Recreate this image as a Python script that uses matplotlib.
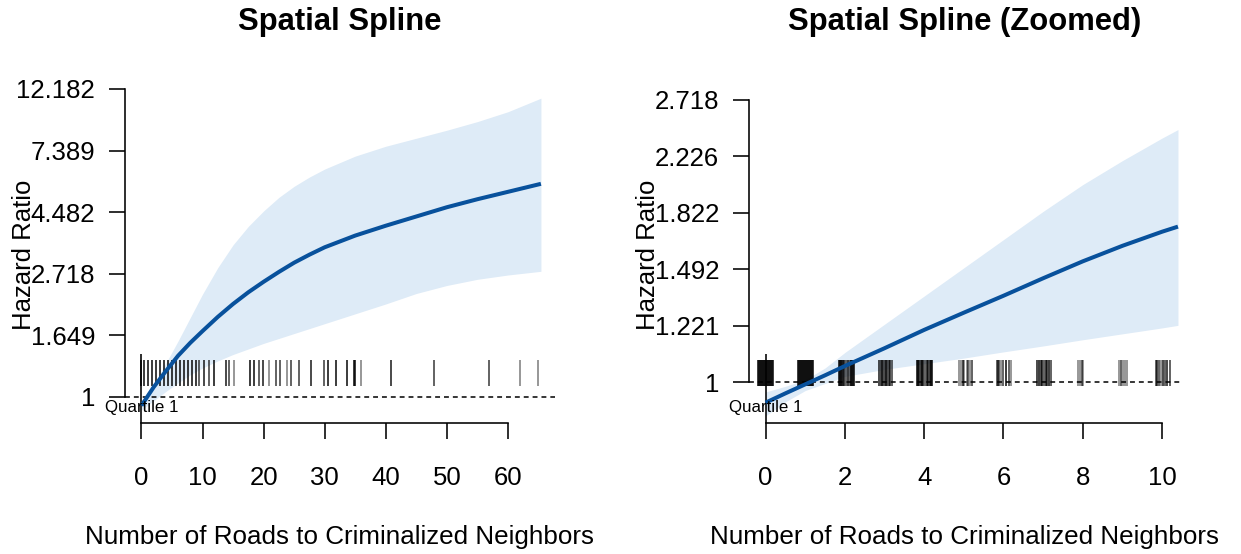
import numpy as np
import matplotlib
matplotlib.use('Agg')
import matplotlib.pyplot as plt
from matplotlib.ticker import NullLocator

# ---- data (log hazard ratio) ----
full_x = [0, 2, 4, 6, 8, 10, 12.5, 15, 17.5, 20, 22.5, 25, 27.5, 30, 35, 40,
          45, 50, 55, 60, 65.4]
full_fit = [-0.07, 0.08, 0.21, 0.335, 0.44, 0.535, 0.65, 0.755, 0.85, 0.935,
            1.015, 1.09, 1.155, 1.215, 1.31, 1.39, 1.465, 1.54, 1.605, 1.665,
            1.73]
full_upper = [-0.035, 0.105, 0.275, 0.455, 0.645, 0.835, 1.05, 1.235, 1.385,
              1.51, 1.62, 1.71, 1.785, 1.85, 1.955, 2.035, 2.10, 2.165, 2.235,
              2.315, 2.425]
full_lower = [-0.105, -0.03, 0.045, 0.115, 0.18, 0.235, 0.293, 0.345, 0.39,
              0.435, 0.475, 0.515, 0.555, 0.595, 0.675, 0.755, 0.84, 0.905,
              0.955, 0.99, 1.02]

zoom_x = [0, 0.5, 1, 1.5, 2, 3, 4, 5, 6, 7, 8, 9, 10, 10.4]
zoom_fit = [-0.073, -0.04, -0.008, 0.024, 0.057, 0.12, 0.185, 0.246, 0.306,
            0.368, 0.428, 0.483, 0.533, 0.551]
zoom_upper = [-0.035, -0.015, 0.008, 0.05, 0.105, 0.205, 0.305, 0.405,
              0.505, 0.605, 0.70, 0.785, 0.865, 0.895]
zoom_lower = [-0.12, -0.07, -0.03, -0.005, 0.02, 0.045, 0.065, 0.085, 0.107,
              0.128, 0.15, 0.171, 0.192, 0.201]

# rug: observed (jittered) values and how many observations overlap there
full_rug = [0.0, 0.49, 1.14, 1.8, 2.45, 3.1, 3.76, 4.4, 5.07, 5.7, 6.37, 7.0,
            7.7, 8.3, 9.0, 9.5, 10.3, 11.0, 11.8, 13.8, 14.4, 15.2, 17.76,
            18.46, 19.23, 19.93, 20.86, 21.95, 22.66, 23.86, 24.56, 25.82,
            27.7, 29.9, 30.6, 31.8, 33.7, 34.8, 35.0, 35.9, 40.9, 47.9, 56.9,
            61.9, 64.9]
full_rug_n = [4, 4, 4, 4, 4, 4, 4, 4, 4, 4, 4, 4,
              4, 4, 4, 2, 3, 2, 4, 3, 2, 1, 4,
              4, 2, 3, 1, 2, 2, 1, 2, 2,
              3, 2, 4, 4, 4, 4, 4, 1, 3, 2, 2,
              1, 1]

zoom_rug = [-0.18, -0.155, -0.13, -0.105, -0.08, -0.055, -0.03, -0.005,
            0.02, 0.045, 0.07, 0.095, 0.12, 0.145, 0.17, 0.195,
            0.82, 0.845, 0.87, 0.895, 0.92, 0.945, 0.97, 0.995,
            1.02, 1.045, 1.07, 1.095, 1.12, 1.145, 1.17, 1.195,
            1.842, 1.868, 1.893, 1.918, 1.952, 1.985, 2.035, 2.069, 2.119,
            2.152, 2.178, 2.203, 2.228,
            2.864, 2.906, 2.940, 2.973, 3.007, 3.040, 3.074, 3.107, 3.141,
            3.183,
            3.827, 3.853, 3.878, 3.920, 3.953, 3.978, 4.028, 4.070, 4.104,
            4.137, 4.171, 4.204,
            4.883, 4.925, 4.967, 5.008, 5.067, 5.109, 5.151, 5.201,
            5.838, 5.863, 5.888, 5.947, 5.988, 6.072, 6.139, 6.198,
            6.851, 6.893, 6.935, 6.977, 7.018, 7.060, 7.102, 7.144, 7.186,
            7.889, 7.931, 7.973, 8.015,
            8.903, 8.961, 9.003, 9.062, 9.104,
            9.841, 9.883, 9.925, 9.967, 10.025, 10.076, 10.134, 10.193]
zoom_rug_n = [4] * 32 + \
    [4, 4, 4, 3, 2, 4, 2, 4, 2, 4, 4, 3, 4] + \
    [3, 3, 2, 3, 3, 2, 3, 3, 3, 2] + \
    [4, 4, 4, 4, 4, 4, 2, 4, 4, 4, 4, 4] + \
    [1, 1, 3, 1, 1, 2, 1, 2] + \
    [2, 2, 2, 1, 2, 4, 2, 1] + \
    [3, 4, 3, 4, 2, 4, 3, 4, 2] + \
    [1, 1, 2, 1] + \
    [1, 2, 1, 1, 1] + \
    [2, 3, 2, 1, 3, 2, 3, 2]

full_ticks_x = [0, 10, 20, 30, 40, 50, 60]
full_ticks_y = [0, 0.5, 1.0, 1.5, 2.0, 2.5]
zoom_ticks_x = [0, 2, 4, 6, 8, 10]
zoom_ticks_y = [0, 0.2, 0.4, 0.6, 0.8, 1.0]

LINE = '#08519c'
BAND = '#deebf7'
FS = 18.5


def draw_panel(ax, x, fit, lo, hi, rug, rug_n, xticks, yticks, xlim, ylim,
               title):
    x = np.asarray(x)
    ax.fill_between(x, np.exp(lo), np.exp(hi), color=BAND, lw=0, zorder=1)

    cols = [(0, 0, 0, 1 - 0.5 ** n) for n in rug_n]
    ax.vlines(rug, 0.11, 0.187, colors=cols, lw=1.15,
              transform=ax.get_xaxis_transform(), zorder=2)
    ax.vlines(0, 0, 0.206, colors='black', lw=1.15,
              transform=ax.get_xaxis_transform(), zorder=2)
    ax.axhline(1, color='black', lw=1.1, ls=(0, (3.2, 2.6)), zorder=2)
    ax.plot(x, np.exp(fit), color=LINE, lw=2.9, zorder=3,
            solid_capstyle='butt')

    ax.text(0, 0.045, 'Quartile 1', transform=ax.get_xaxis_transform(),
            ha='center', va='center', fontsize=12.2, zorder=4)

    ax.set_yscale('log')
    ax.set_xlim(*xlim)
    ax.set_ylim(np.exp(ylim[0]), np.exp(ylim[1]))
    ax.set_xticks(xticks)
    ax.set_xticklabels([str(t) for t in xticks])
    yt = np.exp(yticks)
    ax.set_yticks(yt)
    ax.set_yticklabels([f'{round(v, 3):g}' for v in yt])
    ax.yaxis.set_minor_locator(NullLocator())

    for s in ['top', 'right']:
        ax.spines[s].set_visible(False)
    ax.spines['left'].set_bounds(yt[0], yt[-1])
    ax.spines['bottom'].set_bounds(xticks[0], xticks[-1])
    for s in ['left', 'bottom']:
        ax.spines[s].set_linewidth(1.15)

    ax.tick_params(axis='both', length=11.5, width=1.15, labelsize=FS)
    ax.tick_params(axis='x', pad=19.5)
    ax.tick_params(axis='y', pad=10)

    ax.text(0.5, 1.193, title, transform=ax.transAxes, ha='center',
            va='center', fontsize=22.3, fontweight='bold')
    ax.text(0.5, -0.339, 'Number of Roads to Criminalized Neighbors',
            transform=ax.transAxes, ha='center', va='center', fontsize=18.7)
    ax.text(-0.235, 0.5, 'Hazard Ratio', transform=ax.transAxes,
            ha='center', va='center', rotation=90, fontsize=FS)


plt.rcParams['font.family'] = ['Liberation Sans', 'DejaVu Sans']

fig = plt.figure(figsize=(12.41, 5.54), dpi=100)
ax1 = fig.add_axes([0.1007, 0.2365, 0.3465, 0.6065])
ax2 = fig.add_axes([0.6035, 0.2365, 0.3473, 0.6065])

draw_panel(ax1, full_x, full_fit, full_lower, full_upper, full_rug,
           full_rug_n, full_ticks_x, full_ticks_y, (-2.7, 67.7),
           (-0.211, 2.516), 'Spatial Spline')
draw_panel(ax2, zoom_x, zoom_fit, zoom_lower, zoom_upper, zoom_rug,
           zoom_rug_n, zoom_ticks_x, zoom_ticks_y, (-0.42, 10.45),
           (-0.145, 1.046), 'Spatial Spline (Zoomed)')

fig.savefig('out.png', dpi=100)
